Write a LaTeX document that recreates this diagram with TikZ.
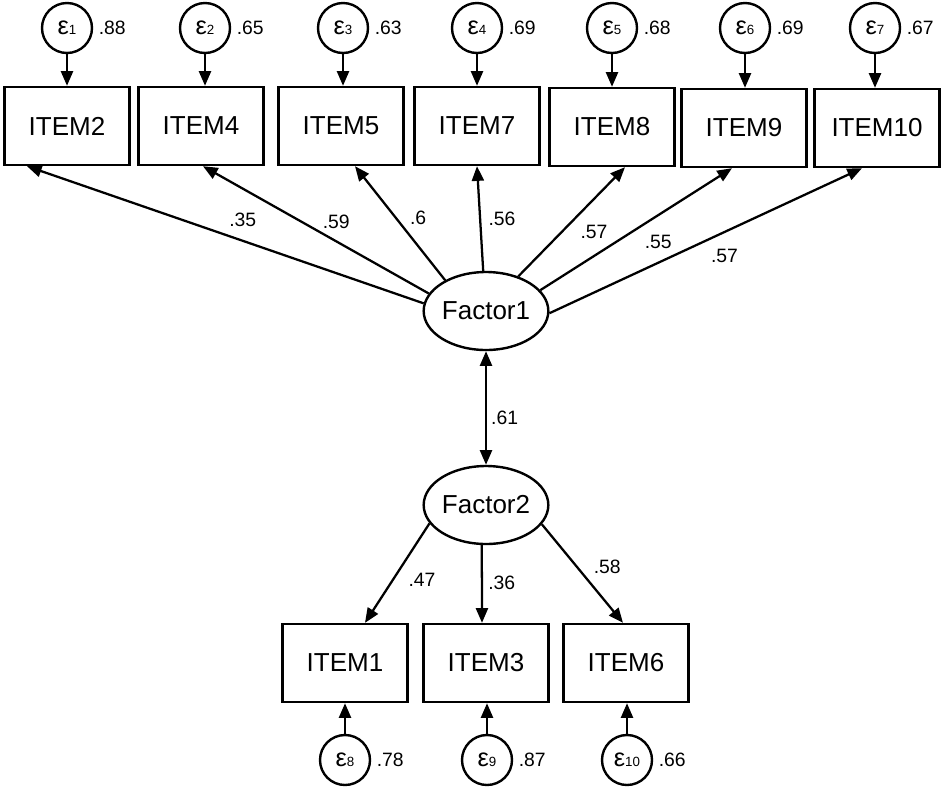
\documentclass[tikz,border=0pt]{standalone}
\usepackage{fontspec}
\setmainfont{Liberation Sans}
\usetikzlibrary{shapes.geometric,arrows.meta,positioning,calc}

\newcommand{\errlab}[1]{{\fontsize{19}{19}\selectfont ε}{\fontsize{10}{10}\selectfont #1}}

\begin{document}
\begin{tikzpicture}[x=0.75pt, y=-0.75pt,
obs/.style={draw, line width=1.8pt, minimum width=93.75pt, minimum height=58.5pt,
inner sep=0pt, font=\fontsize{19.5}{23}\selectfont},
lat/.style={draw, ellipse, line width=1.8pt, minimum width=92.25pt, minimum height=58.5pt,
inner sep=0pt, font=\fontsize{19.5}{23}\selectfont},
err/.style={draw, circle, line width=1.8pt, minimum size=37.5pt, inner sep=0pt},
coef/.style={font=\fontsize{14.5}{16}\selectfont, inner sep=1pt},
arrow/.style={-{Triangle[length=11pt,width=9pt]}, line width=1.7pt},
darrow/.style={{Triangle[length=11pt,width=9pt]}-{Triangle[length=11pt,width=9pt]}, line width=1.7pt}
]
\useasboundingbox (0,0) rectangle (945,790);

% observed items, factor 1
\node[obs] (i2) at (67,126) {ITEM2};
\node[obs] (i4) at (201,126) {ITEM4};
\node[obs] (i5) at (341,126) {ITEM5};
\node[obs] (i7) at (477,126) {ITEM7};
\node[obs] (i8) at (612,127) {ITEM8};
\node[obs] (i9) at (744,128) {ITEM9};
\node[obs] (i10) at (877,128) {ITEM10};

% errors, factor 1
\node[err] (e1) at (67,28) {\errlab{1}};
\node[err] (e2) at (205,28) {\errlab{2}};
\node[err] (e3) at (343,28) {\errlab{3}};
\node[err] (e4) at (477,28) {\errlab{4}};
\node[err] (e5) at (612,28) {\errlab{5}};
\node[err] (e6) at (745,28) {\errlab{6}};
\node[err] (e7) at (875,28) {\errlab{7}};

\node[coef, right=3pt of e1] (v1) {.88};
\node[coef, right=3pt of e2] (v2) {.65};
\node[coef, right=3pt of e3] (v3) {.63};
\node[coef, right=3pt of e4] (v4) {.69};
\node[coef, right=3pt of e5] (v5) {.68};
\node[coef, right=3pt of e6] (v6) {.69};
\node[coef, right=3pt of e7] (v7) {.67};

% factors
\node[lat] (F1) at (486,311) {Factor1};
\node[lat] (F2) at (486,505) {Factor2};

% observed items, factor 2
\node[obs] (i1) at (345,663) {ITEM1};
\node[obs] (i3) at (486,663) {ITEM3};
\node[obs] (i6) at (626,663) {ITEM6};

\node[err] (e8) at (345,760) {\errlab{8}};
\node[err] (e9) at (487,760) {\errlab{9}};
\node[err] (e10) at (627,760) {\errlab{10}};

\node[coef, right=3pt of e8] (v8) {.78};
\node[coef, right=3pt of e9] (v9) {.87};
\node[coef, right=3pt of e10] (v10) {.66};

% error paths
\foreach \e/\i in {e1/i2, e2/i4, e3/i5, e4/i7, e5/i8, e6/i9, e7/i10}
  \draw[arrow] (\e) -- (\e |- \i.north);
\foreach \e/\i in {e8/i1, e9/i3, e10/i6}
  \draw[arrow] (\e) -- (\e |- \i.south);

% loadings
\draw[arrow] (F1.173) -- node[coef, pos=0.456, above=9pt] (l2) {.35} ($(i2.south)+(-40,0)$);
\draw[arrow] (F1.163) -- node[coef, pos=0.41, above=8pt] (l4) {.59} ($(i4.south)+(2,0)$);
\draw[arrow] (F1.143) -- node[coef, pos=0.55, right=9pt] (l5) {.6} ($(i5.south)+(14,0)$);
\draw[arrow] (F1.94) -- node[coef, pos=0.5, right=4.5pt] (l7) {.56} (i7.south);
\draw[arrow] (F1.47) -- node[coef, pos=0.41, right=12pt] (l8) {.57} ($(i8.south)+(13,0)$);
\draw[arrow] (F1.21) -- node[coef, pos=0.615, below=13pt] (l9) {.55} ($(i9.south)+(-12,0)$);
\draw[arrow] (F1.-2) -- node[coef, pos=0.56, below=11pt] (l10) {.57} ($(i10.south)+(-15,0)$);

\draw[darrow] (F1.south) -- node[coef, pos=0.59, right=2pt] (r12) {.61} (F2.north);

\draw[arrow] (F2.198) -- node[coef, pos=0.57, right=10pt] (l1) {.47} ($(i1.north)+(20,0)$);
\draw[arrow] (F2.264) -- node[coef, pos=0.49, right=3pt] (l3) {.36} ($(i3.north)+(-4,0)$);
\draw[arrow] (F2.341) -- node[coef, pos=0.43, right=11pt] (l6) {.58} ($(i6.north)+(-3,0)$);

\end{tikzpicture}
\end{document}
